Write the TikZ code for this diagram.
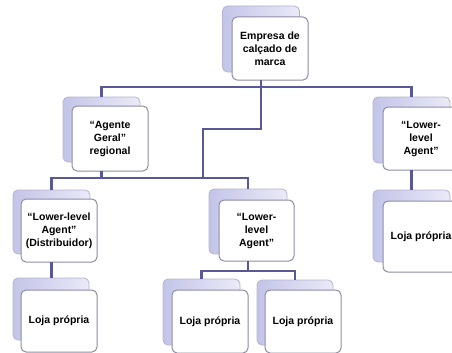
\documentclass[tikz,border=0pt]{standalone}
\usepackage{fontspec}
\setmainfont{Liberation Sans}
\definecolor{conncol}{RGB}{88,88,150}
\definecolor{frontborder}{RGB}{140,140,165}
\definecolor{backborder}{RGB}{180,180,208}
\definecolor{backleft}{RGB}{196,196,232}
\definecolor{backright}{RGB}{234,234,248}
\begin{document}
\begin{tikzpicture}[x=1pt,y=-1pt,
  backcard/.style={draw=backborder, line width=0.8pt, rounded corners=5pt,
    left color=backleft, right color=backright, inner sep=0pt, outer sep=0pt},
  frontcard/.style={draw=frontborder, line width=1pt, rounded corners=5pt,
    fill=white, inner sep=0pt, outer sep=0pt, align=center,
    font=\bfseries\fontsize{10.5}{13}\selectfont},
  conn/.style={draw=conncol, line width=2.2pt}]
\path[use as bounding box] (0,0) rectangle (452,353);
\clip (0,0) rectangle (452,353);

% back cards
\node[backcard, minimum width=77pt, minimum height=66pt] (topb) at (261,39) {};
\node[backcard, minimum width=77pt, minimum height=65pt] (agb) at (101.5,129.5) {};
\node[backcard, minimum width=77pt, minimum height=66pt] (rtb) at (411.5,130) {};
\node[backcard, minimum width=78pt, minimum height=65pt] (mab) at (248,221.5) {};
\node[backcard, minimum width=77pt, minimum height=64pt] (lab) at (51.5,222) {};
\node[backcard, minimum width=76pt, minimum height=62pt] (llb) at (51,309) {};
\node[backcard, minimum width=77pt, minimum height=72pt] (rlb) at (411.5,226) {};
\node[backcard, minimum width=77pt, minimum height=66pt] (m1b) at (201.5,312) {};
\node[backcard, minimum width=76pt, minimum height=65pt] (m2b) at (295,312.5) {};

% front cards
\node[frontcard, minimum width=76pt, minimum height=63pt] (top) at (270,48.5) {Empresa de\\calçado de\\marca};
\node[frontcard, minimum width=76pt, minimum height=65pt] (ag) at (110,138.5) {“Agente\\Geral”\\regional};
\node[frontcard, minimum width=76pt, minimum height=63pt] (rt) at (421,138.5) {“Lower-\\level\\Agent”};
\node[frontcard, minimum width=75pt, minimum height=61pt] (ma) at (256.5,230.5) {“Lower-\\level\\Agent”};
\node[frontcard, minimum width=76pt, minimum height=63pt] (la) at (59,230.5) {“Lower-level\\Agent”\\(Distribuidor)};
\node[frontcard, minimum width=76pt, minimum height=62pt] (ll) at (59,321) {Loja própria};
\node[frontcard, minimum width=76pt, minimum height=71pt] (rl) at (421,236.5) {Loja própria};
\node[frontcard, minimum width=76pt, minimum height=63pt] (m1) at (210,321.5) {Loja própria};
\node[frontcard, minimum width=76pt, minimum height=63pt] (m2) at (303,321.5) {Loja própria};

% junction coordinates
\coordinate (h1) at (261,87);
\coordinate (j2) at (261,129);
\coordinate (j3) at (203,129);
\coordinate (h2) at (203,178);
\coordinate (h3) at (247,271);

% connectors
\draw[conn] (topb |- top.south) -- (h1);
\draw[conn] (agb.north) -- (agb.north |- h1) -- (rtb.north |- h1) -- (rtb.north);
\draw[conn] (h1) -- (j2) -- (j3) -- (h2);
\draw[conn] (agb |- ag.south) -- (agb |- h2);
\draw[conn] (lab.north) -- (lab.north |- h2) -- (mab.north |- h2) -- (mab.north);
\draw[conn] (rtb |- rt.south) -- (rlb.north);
\draw[conn] (lab |- la.south) -- (lab |- llb.north);
\draw[conn] (mab |- ma.south) -- (mab |- h3);
\draw[conn] (m1b.north) -- (m1b.north |- h3) -- (m2b.north |- h3) -- (m2b.north);
\end{tikzpicture}
\end{document}
